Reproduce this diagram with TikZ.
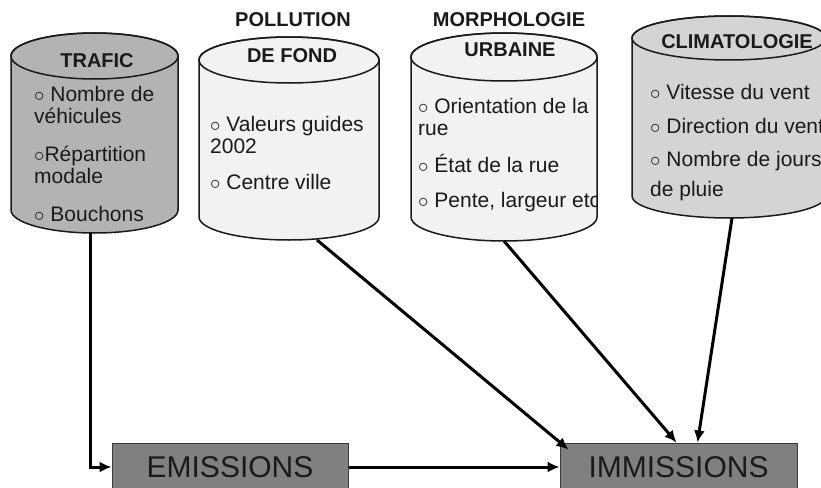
\documentclass[tikz,border=0pt]{standalone}
\usepackage{fontspec}
\setmainfont{Liberation Sans}
\usepackage{tikz}
\usetikzlibrary{arrows.meta,positioning,calc}
\definecolor{inkc}{HTML}{1A1A1A}
\definecolor{trafg}{HTML}{B3B3B3}
\definecolor{paleg}{HTML}{F2F2F2}
\definecolor{climg}{HTML}{D4D4D4}
\definecolor{boxg}{HTML}{808080}
\definecolor{boxline}{HTML}{3A3A3A}
\newcommand{\hdrfont}{\fontsize{20}{22}\selectfont\bfseries}
\newcommand{\itemfont}{\fontsize{21}{22.5}\selectfont}
\newcommand{\resfont}{\fontsize{30}{36}\selectfont}
\tikzstyle{drum} = [rectangle, inner sep=0pt, outer sep=0pt]
\tikzstyle{drumline} = [draw=inkc, line width=1.5pt]
\tikzstyle{hdr} = [font=\hdrfont, text=inkc, inner sep=0pt]
\tikzstyle{items} = [font=\itemfont, text=inkc, align=left, anchor=north west, inner sep=0pt]
\tikzstyle{result} = [rectangle, draw=boxline, line width=1pt, fill=boxg, font=\resfont, text=inkc]
\tikzstyle{flow} = [->, line width=3pt, draw=black]
% node, x radius, y radius, fill
\newcommand{\drum}[4]{%
  \filldraw[drumline, fill=#4] ([yshift=-#3pt]#1.north west) -- ([yshift=#3pt]#1.south west)
    arc (180:360:#2pt and #3pt) -- ([yshift=-#3pt]#1.north east)
    arc (0:180:#2pt and #3pt) -- cycle;
  \draw[drumline] ([yshift=-#3pt]#1.north) ellipse (#2pt and #3pt);
}

\begin{document}
\begin{tikzpicture}[x=1pt,y=-1pt,>={Latex[length=12pt,width=11pt]}]
    \useasboundingbox (0,0) rectangle (821,487);

    % the four sources
    \node[drum, minimum width=167pt, minimum height=200pt] (trafic) at (94.5,133) {};
    \node[drum, minimum width=180pt, minimum height=203pt] (pollution) at (289,138.5) {};
    \node[drum, minimum width=186pt, minimum height=208pt] (morpho) at (504,137) {};
    \node[drum, minimum width=194pt, minimum height=202pt] (climat) at (729,117) {};
    \drum{trafic}{83.5}{23}{trafg}
    \drum{pollution}{90}{23}{paleg}
    \drum{morpho}{93}{24}{paleg}
    \drum{climat}{97}{22}{climg}

    \node[hdr] (traficT) at (97,61) {TRAFIC};
    \node[hdr] (pollutionT) at (293,20) {POLLUTION};
    \node[hdr] (pollutionU) at (292,56) {DE FOND};
    \node[hdr] (morphoT) at (509,20) {MORPHOLOGIE};
    \node[hdr] (morphoU) at (510,50) {URBAINE};
    \node[hdr] (climatT) at (737,42) {CLIMATOLOGIE};

    \node[items] (traficL) at (34,86) {$\circ$ Nombre de\\véhicules\\[15pt]$\circ$Répartition\\modale\\[15pt]$\circ$ Bouchons};
    \node[items] (pollutionL) at (210,116) {$\circ$ Valeurs guides\\2002\\[13pt]$\circ$ Centre ville};
    \begin{scope}
        \clip (morpho.north west) rectangle ([xshift=-1pt]morpho.south east);
        \node[items] (morphoL) at (418,98) {$\circ$ Orientation de la\\rue\\[14pt]$\circ$ État de la rue\\[13pt]$\circ$ Pente, largeur etc};
    \end{scope}
    \node[items] (climatL) at (650,84) {$\circ$ Vitesse du vent\\[12pt]$\circ$ Direction du vent\\[10pt]$\circ$ Nombre de jours\\[7.5pt]de pluie};

    % results
    \node[result, minimum width=236pt, minimum height=48pt] (emissions) at (230,467) {EMISSIONS};
    \node[result, minimum width=237pt, minimum height=48pt] (immissions) at (678.5,467) {IMMISSIONS};

    \draw[flow] ([xshift=-4.5pt]trafic.south) |- (emissions.west);
    \draw[flow] (emissions) -- (immissions);
    \draw[flow] ([xshift=28pt]pollution.south) -- ([xshift=9pt,yshift=-7pt]immissions.north west);
    \draw[flow] (morpho.south) -- ([xshift=-2pt]immissions.north);
    \draw[flow] ([xshift=3pt]climat.south) -- ([xshift=19pt]immissions.north); % from the right
\end{tikzpicture}
\end{document}
